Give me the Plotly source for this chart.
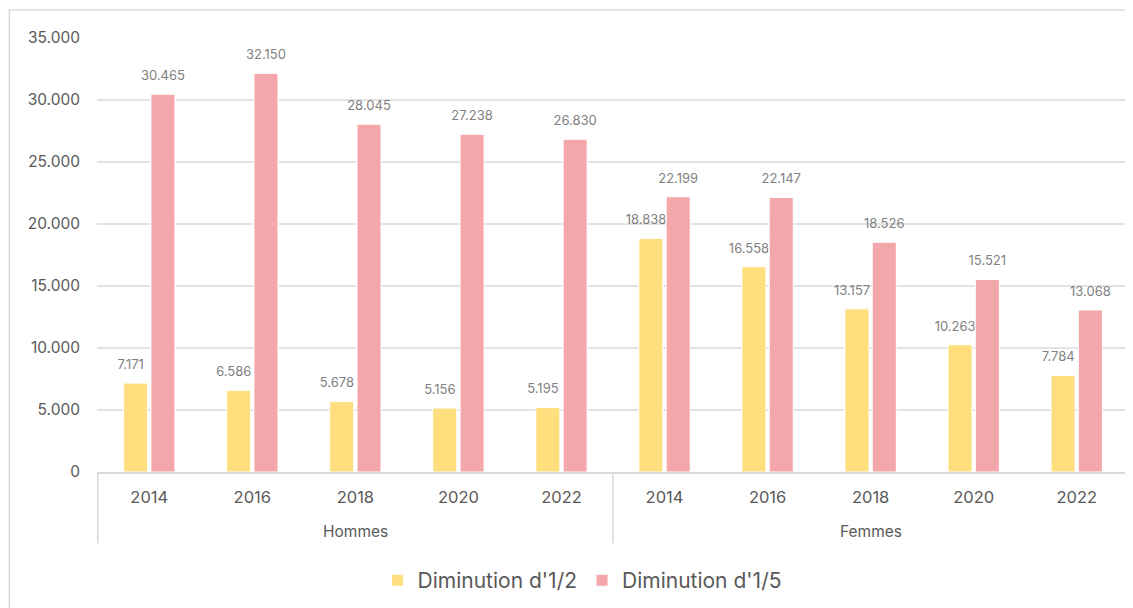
import plotly.graph_objects as go

years = ['2014', '2016', '2018', '2020', '2022']
groups = ['Hommes', 'Femmes']
moitie_hommes = [7171, 6586, 5678, 5156, 5195]
moitie_femmes = [18838, 16558, 13157, 10263, 7784]
cinquieme_hommes = [30465, 32150, 28045, 27238, 26830]
cinquieme_femmes = [22199, 22147, 18526, 15521, 13068]

cats = [f'{g} {y}' for g in groups for y in years]
moitie = moitie_hommes + moitie_femmes
cinquieme = cinquieme_hommes + cinquieme_femmes

font = 'Inter, Lato, sans-serif'
label = '<span style="font-size:13px">%{y:,}</span>'

fig = go.Figure()
fig.add_trace(go.Bar(x=cats, y=moitie, name="Diminution d'1/2",
                     marker=dict(color='#FFDE7D', line=dict(color='white', width=1)),
                     texttemplate=label + '\u00a0\u00a0\u00a0\u00a0\u00a0<br> ', textposition='outside',
                     cliponaxis=False, constraintext='none',
                     textfont=dict(color='#7f7f7f', size=7, family=font)))
fig.add_trace(go.Bar(x=cats, y=cinquieme, name="Diminution d'1/5",
                     marker=dict(color='#F4A7AB', line=dict(color='white', width=1)),
                     texttemplate=label + '<br> ', textposition='outside',
                     cliponaxis=False, constraintext='none',
                     textfont=dict(color='#7f7f7f', size=7, family=font)))

# group labels and dividers under the year labels
annotations = [dict(x=f'{g} {years[2]}', xref='x', y=-0.138, yref='paper',
                    text=g, showarrow=False, yanchor='middle',
                    font=dict(size=15.5, color='#595959', family=font))
               for g in groups]
shapes = [dict(type='line', xref='x', yref='paper', x0=p, x1=p, y0=0, y1=-0.164,
               line=dict(color='#d9d9d9', width=1.5))
          for p in [-0.5, len(years) - 0.5, 2 * len(years) - 0.5]]
shapes.append(dict(type='rect', xref='paper', yref='paper',
                   x0=-0.085, x1=1.2, y0=-0.5, y1=1.0645,
                   line=dict(color='#dcdcdc', width=1.5), layer='below'))

fig.update_layout(
    width=1125, height=600,
    margin=dict(l=89, r=4, t=30, b=136, autoexpand=False),
    paper_bgcolor='white', plot_bgcolor='white',
    separators=',.',
    barmode='group', bargap=0.47, bargroupgap=0.12,
    font=dict(family=font, color='#595959', size=15),
    legend=dict(orientation='h', x=0.47, xanchor='center', y=-0.203, yanchor='top',
                font=dict(size=21, color='#595959'), itemwidth=30),
    annotations=annotations,
    shapes=shapes,
)
fig.update_yaxes(range=[0, 35000], dtick=5000, tickformat=',d', automargin=False,
                 gridcolor='#e3e3e3', gridwidth=1.5, zeroline=False,
                 showline=False, ticks='', ticklabelstandoff=16,
                 tickfont=dict(size=15.5))
fig.update_xaxes(showline=True, linecolor='#d9d9d9', linewidth=1.5, automargin=False,
                 tickvals=cats, ticktext=years * len(groups),
                 ticklabelstandoff=9, tickfont=dict(size=16.5))

fig.write_html('out.html')
